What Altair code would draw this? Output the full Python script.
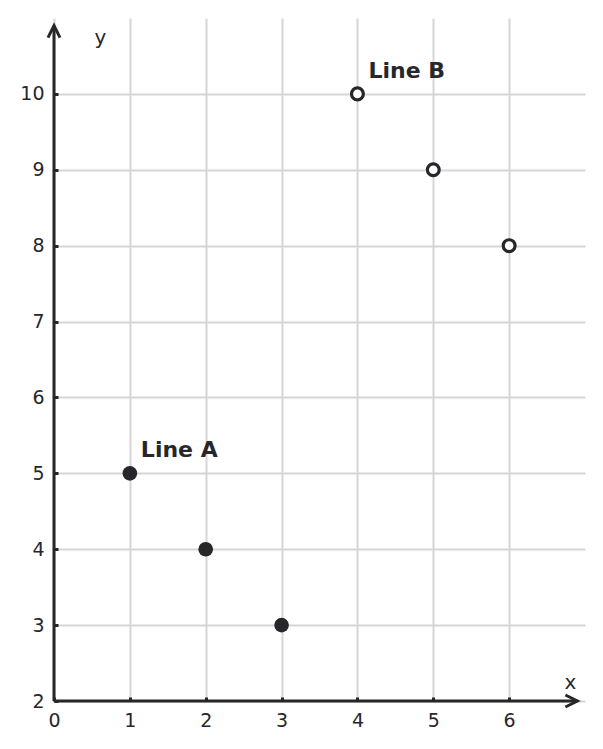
import altair as alt
import pandas as pd

# --- data ---
series_names = ["Line A", "Line A", "Line A", "Line B", "Line B", "Line B"]
x_values = [1, 2, 3, 4, 5, 6]
y_values = [5, 4, 3, 10, 9, 8]
filled_flags = [True, True, True, False, False, False]
label_texts = ["Line A", "Line B"]
label_x = [1, 4]
label_y = [5, 10]
x_ticks = [0, 1, 2, 3, 4, 5, 6]
y_ticks = [2, 3, 4, 5, 6, 7, 8, 9, 10]
x_domain = [0, 7]
y_domain = [2, 11]
x_axis_end = 6.9
y_axis_end = 10.9

DARK = "#27272b"
GRID = "#d6d6d6"
FONT = "DejaVu Sans"

pts = pd.DataFrame({"series": series_names, "x": x_values, "y": y_values, "filled": filled_flags})
labels = pd.DataFrame({"text": label_texts, "x": label_x, "y": label_y})
xaxis_df = pd.DataFrame({"x": [x_domain[0]], "x2": [x_axis_end], "y": [y_domain[0]]})
yaxis_df = pd.DataFrame({"x": [x_domain[0]], "y": [y_domain[0]], "y2": [y_axis_end]})
xarrow_df = pd.DataFrame({"x": [x_axis_end], "y": [y_domain[0]]})
yarrow_df = pd.DataFrame({"x": [x_domain[0]], "y": [y_axis_end]})

xscale = alt.Scale(domain=x_domain, nice=False, zero=False)
yscale = alt.Scale(domain=y_domain, nice=False, zero=False)

x_axis = alt.Axis(
    values=x_ticks, format="d", domain=False, grid=True, gridColor=GRID, gridWidth=2,
    ticks=True, tickSize=4, tickWidth=3, tickColor=DARK, offset=-4,
    labelFont=FONT, labelFontSize=19, labelColor=DARK, labelPadding=10,
    labelFlush=False, labelOverlap=False,
    title="x", titleFont=FONT, titleFontSize=20, titleFontWeight="normal", titleColor=DARK,
    titleX=516, titleY=-9, titleAlign="center", titleBaseline="alphabetic", titleAngle=0,
)
y_axis = alt.Axis(
    values=y_ticks, format="d", domain=False, grid=True, gridColor=GRID, gridWidth=2,
    ticks=True, tickSize=4, tickWidth=3, tickColor=DARK, offset=-4,
    labelFont=FONT, labelFontSize=19, labelColor=DARK, labelPadding=10,
    labelFlush=False, labelOverlap=False,
    title="y", titleFont=FONT, titleFontSize=20, titleFontWeight="normal", titleColor=DARK,
    titleX=42, titleY=25, titleAlign="center", titleBaseline="alphabetic", titleAngle=0,
)

base_pts = alt.Chart(pts).encode(
    x=alt.X("x:Q", scale=xscale, axis=x_axis),
    y=alt.Y("y:Q", scale=yscale, axis=y_axis),
)

xline = alt.Chart(xaxis_df).mark_rule(color=DARK, strokeWidth=3).encode(
    x=alt.X("x:Q", scale=xscale), x2="x2:Q", y=alt.Y("y:Q", scale=yscale)
)
yline = alt.Chart(yaxis_df).mark_rule(color=DARK, strokeWidth=3).encode(
    x=alt.X("x:Q", scale=xscale), y=alt.Y("y:Q", scale=yscale), y2="y2:Q"
)
xarrow = alt.Chart(xarrow_df).mark_point(
    shape="M-1,-0.5L0,0L-1,0.5", size=576, filled=False, stroke=DARK, strokeWidth=3,
    opacity=1, strokeJoin="miter"
).encode(x=alt.X("x:Q", scale=xscale), y=alt.Y("y:Q", scale=yscale))
yarrow = alt.Chart(yarrow_df).mark_point(
    shape="M-0.5,1L0,0L0.5,1", size=576, filled=False, stroke=DARK, strokeWidth=3,
    opacity=1, strokeJoin="miter"
).encode(x=alt.X("x:Q", scale=xscale), y=alt.Y("y:Q", scale=yscale))

filled_pts = base_pts.transform_filter("datum.filled").mark_circle(
    size=215, color=DARK, opacity=1
)
open_pts = base_pts.transform_filter("!datum.filled").mark_point(
    shape="circle", size=140, filled=False, stroke=DARK, strokeWidth=3.2, fill="white",
    fillOpacity=1, opacity=1
)

text = alt.Chart(labels).mark_text(
    font=FONT, fontSize=22, fontWeight="bold", color=DARK, align="left",
    baseline="alphabetic", dx=11, dy=-16
).encode(x=alt.X("x:Q", scale=xscale), y=alt.Y("y:Q", scale=yscale), text="text:N")

chart = alt.layer(
    filled_pts, open_pts, xline, yline, xarrow, yarrow, text
).properties(
    width=531, height=683,
    background="white",
    autosize=alt.AutoSizeParams(type="none"),
    padding={"left": 46, "top": 10, "right": 10, "bottom": 40},
).configure_view(strokeWidth=0, stroke="transparent")

chart.save("out.html", embed_options={"renderer": "svg", "actions": False})
